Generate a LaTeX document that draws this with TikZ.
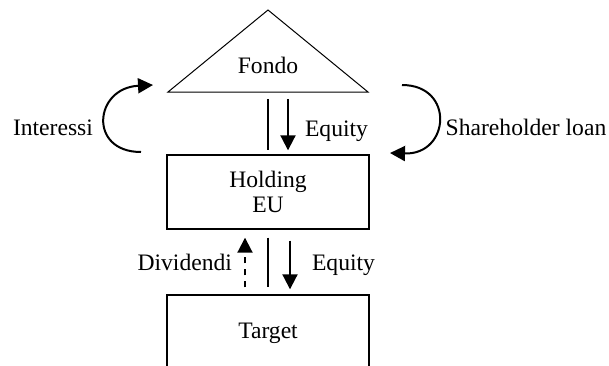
\documentclass[tikz,border=0pt]{standalone}
\usepackage{fontspec}
\setmainfont{Liberation Serif}
\usetikzlibrary{arrows.meta,positioning,calc}

\begin{document}
\begin{tikzpicture}[x=0.5pt,y=-0.5pt,
  font=\fontsize{11.8}{12.5}\selectfont,
  box/.style={draw,line width=0.7pt,minimum width=101pt,minimum height=37pt,inner sep=0pt,align=center},
  flow/.style={line width=1pt,-{Triangle[length=7.5pt,width=7.5pt]}},
  link/.style={line width=1pt}]
\clip (0,0) rectangle (609,365);
% fund on top
\draw[line width=0.5pt] (168,92) -- (268,10) -- (368,92) -- cycle;
\node (fondo) at (268,65) {Fondo};
\coordinate (fbase) at (268,92);
\node[box] (holding) at (268,192) {Holding\\EU};
\node[box,minimum height=38pt] (target) at (268,333) {Target};
% fund -> holding
\draw[link] ($(fbase)+(0,7)$) -- ($(holding.north)+(0,-4)$);
\draw[flow] ($(fbase)+(20,7)$) -- ($(holding.north)+(20,-4)$);
\node[anchor=west] (eqa) at (298,131) {Equity};
% holding -> target
\draw[flow,dashed] ($(target.north)+(-23,-7)$) -- ($(holding.south)+(-23,8)$);
\draw[link] ($(holding.south)+(0,8)$) -- ($(target.north)+(0,-7)$);
\draw[flow] ($(holding.south)+(22,11)$) -- ($(target.north)+(22,-5)$);
\node[anchor=east] (div) at (239,262) {Dividendi};
\node[anchor=west] (eqb) at (305,265) {Equity};
% loops
\coordinate (ia) at (141,152);
\coordinate (ib) at (153,85);
\draw[flow] (ia) .. controls (88,152) and (94,88) .. (ib);
\node (int) at (53,128) {Interessi};
\coordinate (sa) at (402,85);
\coordinate (sb) at (390,153);
\draw[flow] (sa) .. controls (455,85) and (450,155) .. (sb);
\node (loan) at (526,127) {Shareholder loan};
\end{tikzpicture}
\end{document}
